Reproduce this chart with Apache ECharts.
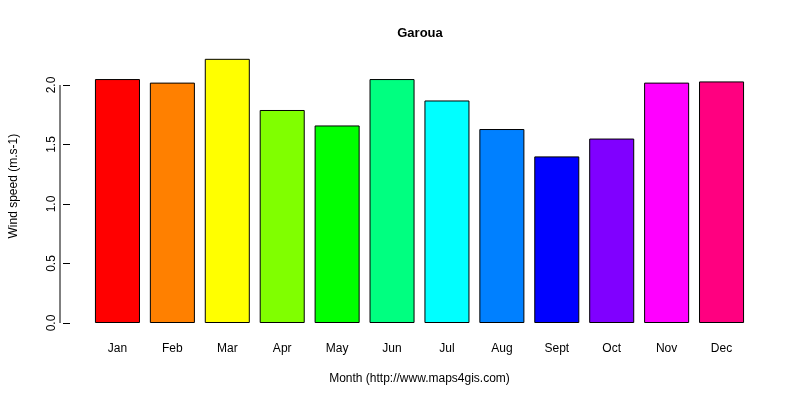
<!DOCTYPE html>
<html><head><meta charset="utf-8">
<script src="https://cdn.jsdelivr.net/npm/echarts@6/dist/echarts.min.js"></script>
<style>body{margin:0}#c{width:800px;height:400px}</style></head>
<body><div id="c"></div>
<script>
var categories=['Jan','Feb','Mar','Apr','May','Jun','Jul','Aug','Sept','Oct','Nov','Dec'];
var values=[2.05,2.02,2.22,1.79,1.66,2.05,1.87,1.63,1.40,1.55,2.02,2.03];
var colors=['#FF0000','#FF8000','#FFFF00','#80FF00','#00FF00','#00FF80','#00FFFF','#0080FF','#0000FF','#8000FF','#FF00FF','#FF0080'];
var ch=echarts.init(document.getElementById('c'));
var f='Liberation Sans, Arial, sans-serif';
ch.setOption({
 animation:false,
 title:{text:'Garoua',left:415,top:22,textAlign:'center',textStyle:{fontSize:13,fontWeight:'bold',fontFamily:f,color:'#000'}},
 grid:{left:80,right:51,top:49.3,bottom:77},
 xAxis:{type:'category',data:categories,axisLine:{show:false},axisTick:{show:false},
  axisLabel:{fontSize:12,fontFamily:f,color:'#000',margin:20},
  name:'Month (http://www.maps4gis.com)',nameLocation:'middle',nameGap:50,nameTextStyle:{fontSize:12,fontFamily:f,color:'#000'}},
 yAxis:{type:'value',min:0,max:2.3,interval:0.5,splitLine:{show:false},axisLine:{show:false},
  offset:20,
  axisTick:{show:true,length:7,lineStyle:{color:'#000'},customValues:[0,0.5,1,1.5,2]},
  axisLabel:{fontSize:12,fontFamily:f,color:'#000',rotate:90,margin:12,customValues:[0,0.5,1,1.5,2],
   formatter:function(v){return v.toFixed(1);}},
  name:'Wind speed (m.s-1)',nameLocation:'middle',nameGap:50,nameTextStyle:{fontSize:12,fontFamily:f,color:'#000'}},
 series:[{type:'bar',barCategoryGap:'18%',
  data:values.map(function(v,i){return {value:v,itemStyle:{color:colors[i]}};}),
  itemStyle:{borderColor:'#000',borderWidth:1}}]
});
var p0=ch.convertToPixel({gridIndex:0},[0,0]),p2=ch.convertToPixel({gridIndex:0},[0,2]);
ch.setOption({graphic:[{type:'line',shape:{x1:60,y1:p0[1],x2:60,y2:p2[1]},style:{stroke:'#000',lineWidth:1}}]});
</script></body></html>
